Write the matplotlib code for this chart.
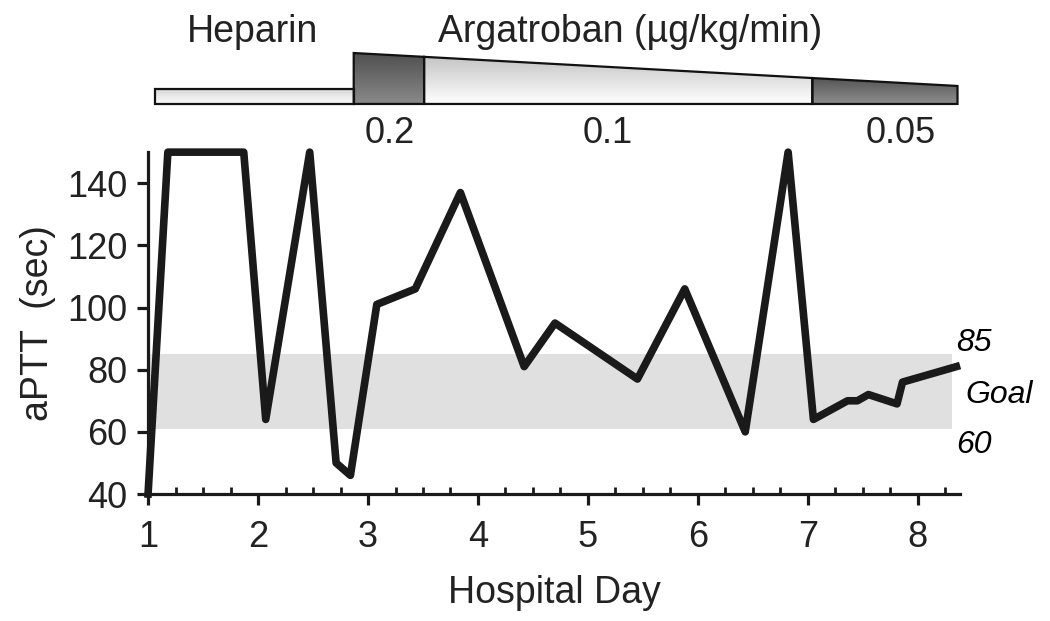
import numpy as np
import matplotlib.pyplot as plt
from matplotlib.patches import Polygon
from matplotlib.ticker import MultipleLocator

plt.rcParams['font.family'] = ['Liberation Sans', 'DejaVu Sans']

# aPTT measurements by hospital day
days = [1.0, 1.18, 1.87, 2.07, 2.47, 2.71, 2.84, 3.08, 3.43, 3.84, 4.42, 4.70,
        5.45, 5.88, 6.43, 6.82, 7.05, 7.36, 7.45, 7.55, 7.81, 7.86, 8.35]
aptt = [40, 150, 150, 64, 150, 50, 46, 101, 106, 137, 81, 95,
        77, 106, 60, 150, 64, 70, 70, 72, 69, 76, 81]

goal_low, goal_high = 61, 85
x_ticks = [1, 2, 3, 4, 5, 6, 7, 8]
y_ticks = [40, 60, 80, 100, 120, 140]

# drug schedule (hospital day)
heparin_start, heparin_end = 1.06, 2.87
arga_steps = [2.87, 3.51, 7.04, 8.36]
arga_rates = ['0.2', '0.1', '0.05']
rate_label_x = [3.2, 5.18, 7.84]

fig = plt.figure(figsize=(10.5, 6.21), dpi=100)
ax = fig.add_axes([0.141, 0.2045, 0.773, 0.5505])

# goal band
ax.axhspan(goal_low, goal_high, xmin=0, xmax=0.99, color='#e0e0e0', lw=0, zorder=0)
ax.plot(days, aptt, color='#1a1a1a', lw=5.5, solid_joinstyle='round', clip_on=False, zorder=3)

ax.set_xlim(1, 8.38)
ax.set_ylim(40, 150)
ax.set_xticks(x_ticks)
ax.set_yticks(y_ticks)
ax.xaxis.set_minor_locator(MultipleLocator(0.25))
for s in ['top', 'right']:
    ax.spines[s].set_visible(False)
for s in ['left', 'bottom']:
    ax.spines[s].set_linewidth(2.3)
    ax.spines[s].set_color('#1a1a1a')
ax.tick_params(axis='both', which='major', width=2.3, length=8, labelsize=26,
               color='#1a1a1a', labelcolor='#222222')
ax.tick_params(axis='x', which='major', pad=11)
ax.tick_params(axis='y', which='major', pad=7)
ax.tick_params(axis='x', which='minor', direction='in', width=2, length=5, color='#1a1a1a')
ax.set_xlabel('Hospital Day', fontsize=27, color='#222222', labelpad=14)
ax.set_ylabel('aPTT  (sec)', fontsize=27, color='#222222', labelpad=8)

# goal labels
ax.text(8.35, 88.6, str(goal_high), fontsize=23, style='italic', va='center', ha='left', clip_on=False)
ax.text(8.43, 71.8, 'Goal', fontsize=23, style='italic', va='center', ha='left', clip_on=False)
ax.text(8.35, 55.8, '60', fontsize=23, style='italic', va='center', ha='left', clip_on=False)

# drug bar on top
top = fig.add_axes([0.141, 0.8229, 0.773, 0.1127])
top.set_xlim(1, 8.38)
top.set_ylim(0, 1)
top.axis('off')

base = 0.086
hep_top = 0.30
y_left, y_right = 0.814, 0.343


def top_edge(x):
    return y_left + (y_right - y_left) * (x - arga_steps[0]) / (arga_steps[-1] - arga_steps[0])


def grad_patch(xs, ys, c_top, c_bot):
    poly = Polygon(list(zip(xs, ys)), closed=True, facecolor='none', edgecolor='#111111', lw=1.6, zorder=3)
    top.add_patch(poly)
    grad = np.linspace(0, 1, 100).reshape(-1, 1)
    c_top = np.array(plt.matplotlib.colors.to_rgb(c_top))
    c_bot = np.array(plt.matplotlib.colors.to_rgb(c_bot))
    img = c_top[None, None, :] * (1 - grad[:, :, None]) + c_bot[None, None, :] * grad[:, :, None]
    im = top.imshow(img, extent=[min(xs), max(xs), min(ys), max(ys)], origin='upper',
                    aspect='auto', zorder=2)
    im.set_clip_path(poly)


# heparin
grad_patch([heparin_start, heparin_end, heparin_end, heparin_start],
           [base, base, hep_top, hep_top], '#d8d8d8', '#fafafa')

shades = [('#505050', '#8a8a8a'), ('#c4c4c4', '#ffffff'), ('#555555', '#8f8f8f')]
for i in range(3):
    x0, x1 = arga_steps[i], arga_steps[i + 1]
    grad_patch([x0, x1, x1, x0], [base, base, top_edge(x1), top_edge(x0)], *shades[i])
    top.text(rate_label_x[i], -0.33, arga_rates[i], fontsize=26, ha='center', va='center',
             color='#222222', clip_on=False)

top.set_xlim(1, 8.38)
top.set_ylim(0, 1)

top.text(1.95, 0.97, 'Heparin', fontsize=27, ha='center', va='baseline', color='#222222', clip_on=False)
top.text(5.38, 0.97, 'Argatroban (\u00b5g/kg/min)', fontsize=27, ha='center', va='baseline',
         color='#222222', clip_on=False)

fig.savefig('out.png', dpi=100)
